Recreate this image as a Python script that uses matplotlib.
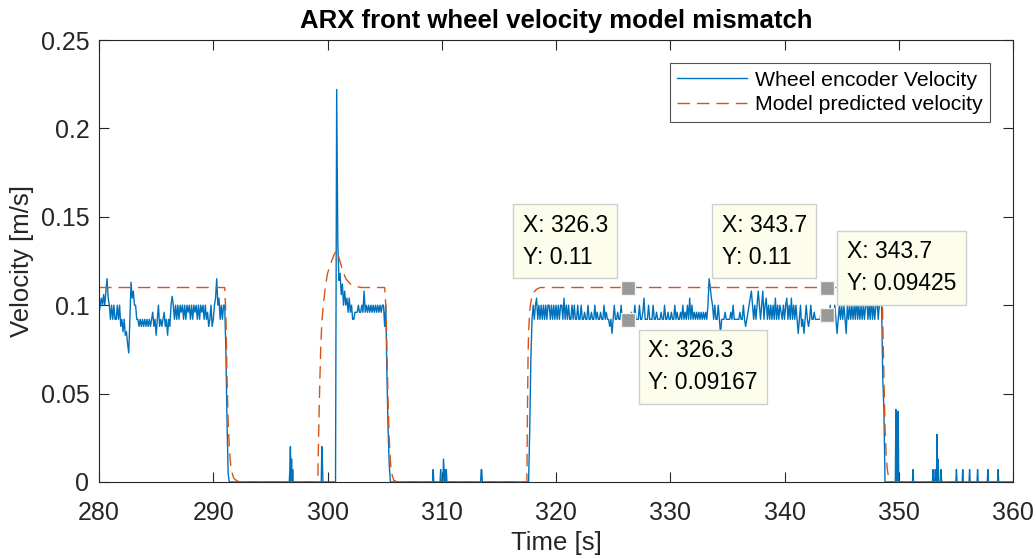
import numpy as np
import matplotlib
matplotlib.use("Agg")
from matplotlib import pyplot as plt

plt.rcParams['font.family'] = ['Liberation Sans', 'DejaVu Sans']

# ENCODER VELOCITY (mm/s), sampled every 0.1 s while the wheel is moving
seg_a_t0 = 280.0
seg_a = [95, 100, 104, 100, 106, 100, 108, 115, 104, 100,
         92, 100, 92, 100, 92, 92, 100, 92, 100, 88,
         92, 85, 92, 83, 85, 78, 73, 92, 113, 104,
         108, 100, 100, 92, 92, 88, 92, 88, 92, 88,
         92, 88, 92, 88, 92, 88, 92, 96, 88, 92,
         83, 92, 100, 88, 92, 88, 92, 96, 88, 92,
         83, 92, 88, 100, 105, 100, 92, 100, 92, 100,
         92, 100, 96, 100, 92, 100, 92, 100, 96, 100,
         92, 100, 92, 100, 96, 100, 92, 100, 92, 100,
         96, 100, 92, 100, 92, 96, 88, 92, 100, 88,
         92, 100, 104, 115, 100, 104, 92, 100, 92, 100,
         100, 75, 35, 5, 0]

seg_b_t0 = 300.7
seg_b = [0, 222, 135,
         114, 118, 106, 112, 100, 108, 100, 104, 96, 104,
         96, 100, 92, 92, 96, 96, 96, 100, 96, 96,
         100, 96, 108, 96, 100, 96, 100, 96, 100, 96,
         100, 96, 100, 96, 100, 96, 100, 96, 100, 100,
         88, 100, 60, 30, 10, 0]

seg_c_t0 = 317.6
seg_c = [0, 30, 70, 92,
         100, 92, 100, 104, 92, 100, 92, 100, 92, 100,
         92, 100, 92, 100, 100, 92, 100, 92, 100, 92,
         100, 92, 100, 92, 100, 100, 92, 104, 92, 100,
         92, 100, 92, 92, 100, 92, 100, 92, 92, 100,
         92, 92, 100, 92, 92, 96, 92, 92, 100, 92,
         92, 96, 92, 92, 100, 92, 96, 92, 92, 96,
         92, 92, 100, 92, 96, 92, 92, 88, 92, 84,
         92, 100, 92, 92, 96, 92, 92, 100, 92, 92,
         92, 92, 92, 92, 92, 92, 96, 92, 92, 100,
         92, 92, 92, 100, 92, 92, 96, 104, 92, 92,
         92, 100, 92, 92, 92, 100, 92, 92, 96, 92,
         92, 92, 96, 92, 92, 100, 92, 92, 96, 92,
         92, 96, 92, 92, 100, 92, 96, 92, 92, 96,
         92, 100, 92, 96, 92, 100, 92, 104, 92, 100,
         92, 96, 92, 96, 92, 96, 92, 96, 92, 96,
         92, 96, 92, 100, 115, 110, 104, 100, 92, 100,
         92, 92, 100, 92, 84, 92, 92, 92, 96, 92,
         92, 92, 92, 96, 92, 100, 92, 92, 92, 92,
         92, 96, 92, 92, 100, 92, 88, 92, 96, 100,
         104, 108, 100, 92, 100, 92, 100, 108, 100, 92,
         100, 108, 92, 100, 104, 92, 100, 92, 100, 92,
         100, 92, 104, 92, 100, 92, 100, 96, 92, 100,
         92, 100, 104, 92, 100, 92, 104, 92, 100, 92,
         100, 92, 84, 92, 100, 88, 92, 84, 92, 100,
         92, 88, 92, 100, 92, 92, 96, 92, 92, 92,
         92, 92, 96, 92, 92, 94, 92, 92, 96, 92,
         100, 92, 96, 92, 100, 92, 84, 92, 100, 92,
         100, 92, 100, 92, 84, 100, 92, 100, 92, 100,
         92, 100, 92, 104, 92, 100, 92, 100, 92, 100,
         92, 100, 104, 92, 100, 92, 104, 92, 100, 92,
         100, 104, 92, 100, 104, 100, 59, 41, 0]

# standstill periods (0.05 s samples), with the few encoder blips in them
quiet_ranges = [(291.5, 300.65), (305.6, 317.55), (348.85, 360.0)]
spike_t = [296.7, 296.75, 296.85, 296.95, 299.5, 299.55, 309.25, 309.9, 310.15,
           310.2, 310.3, 310.4, 313.45, 313.5, 349.75, 349.85, 349.95, 351.25,
           353.0, 353.2, 353.35, 353.45, 353.7, 355.05, 355.6, 356.2, 356.9,
           357.8, 358.7]
spike_v = [0.007, 0.020, 0.013, 0.007, 0.020, 0.012, 0.007, 0.007, 0.013,
           0.007, 0.007, 0.007, 0.007, 0.007, 0.041, 0.034, 0.040, 0.007,
           0.007, 0.007, 0.027, 0.013, 0.007, 0.007, 0.007, 0.007, 0.007,
           0.007, 0.007]

# MODEL PREDICTED VELOCITY
model_t = [280.0, 291.0, 291.1, 291.2, 291.3, 291.4, 291.5, 291.6, 291.8, 292.1, 292.4,
           299.15, 299.2, 299.3, 299.4, 299.5, 299.6, 299.8, 300.0, 300.3, 300.6, 300.8,
           301.0, 301.3, 301.6, 302.0, 302.5, 303.0,
           305.0, 305.1, 305.2, 305.3, 305.4, 305.5, 305.6, 305.8, 306.1,
           317.45, 317.5, 317.55, 317.6, 317.7, 317.8, 318.0, 318.3, 318.6,
           348.55, 348.6, 348.7, 348.8, 348.9, 349.0, 349.1, 349.3, 360.0]
model_v = [0.11, 0.11, 0.095, 0.06, 0.035, 0.02, 0.011, 0.006, 0.002, 0.0005, 0.0,
           0.0, 0.02, 0.05, 0.075, 0.09, 0.098, 0.11, 0.118, 0.124, 0.129, 0.131,
           0.127, 0.12, 0.115, 0.112, 0.1105, 0.11,
           0.11, 0.10, 0.075, 0.045, 0.025, 0.012, 0.005, 0.001, 0.0,
           0.0, 0.04, 0.07, 0.085, 0.097, 0.102, 0.107, 0.109, 0.11,
           0.11, 0.09, 0.06, 0.03, 0.015, 0.007, 0.003, 0.0, 0.0]

# DATA TIPS
tip_x = [326.3, 343.7, 326.3, 343.7]
tip_y = [0.11, 0.11, 0.09167, 0.09425]
tip_txt = ['X: 326.3\nY: 0.11', 'X: 343.7\nY: 0.11',
           'X: 326.3\nY: 0.09167', 'X: 343.7\nY: 0.09425']
tip_side = ['ul', 'ul', 'lr', 'ur']


# ASSEMBLE ENCODER SERIES
parts_t, parts_v = [], []
for t0, vals in [(seg_a_t0, seg_a), (seg_b_t0, seg_b), (seg_c_t0, seg_c)]:
    parts_t.append(t0 + 0.1 * np.arange(len(vals)))
    parts_v.append(np.array(vals) / 1000.0)
for a, b in quiet_ranges:
    tq = np.round(np.arange(a, b + 0.001, 0.05), 2)
    vq = np.zeros(len(tq))
    for ts, vs in zip(spike_t, spike_v):
        hit = np.abs(tq - ts) < 0.01
        vq[hit] = vs
    parts_t.append(tq)
    parts_v.append(vq)
enc_t = np.concatenate(parts_t)
enc_v = np.concatenate(parts_v)
order = np.argsort(enc_t, kind='stable')
enc_t, enc_v = enc_t[order], enc_v[order]


# PLOT
fig = plt.figure(figsize=(10.36, 5.59), dpi=100)
ax = fig.add_axes([0.0956, 0.1378, 0.8822, 0.7906])

ax.plot(enc_t, enc_v, color='#0072BD', lw=1.0, label='Wheel encoder Velocity')
ax.plot(model_t, model_v, color='#D95319', lw=1.0, dashes=(9, 5),
        label='Model predicted velocity')

ax.set_xlim(280, 360)
ax.set_ylim(0, 0.25)
ax.set_xticks(np.arange(280, 361, 10))
ax.set_yticks([0, 0.05, 0.1, 0.15, 0.2, 0.25])
ax.set_yticklabels(['0', '0.05', '0.1', '0.15', '0.2', '0.25'])
ax.tick_params(direction='in', length=7, width=0.8, top=True, right=True,
               labelsize=18, colors='#262626')
ax.tick_params(axis='x', pad=14)
ax.tick_params(axis='y', pad=7)
for s in ax.spines.values():
    s.set_color('#262626')
    s.set_linewidth(0.8)

ax.set_title('ARX front wheel velocity model mismatch', fontsize=18.5,
             fontweight='bold', pad=9)
ax.set_xlabel('Time [s]', fontsize=18.5, color='#262626', labelpad=4)
ax.set_ylabel('Velocity [m/s]', fontsize=18.5, color='#262626', labelpad=5)

leg = ax.legend(loc='upper right', fontsize=15.3, frameon=True, fancybox=False,
                borderaxespad=1.1, handlelength=3.3, handletextpad=0.35,
                borderpad=0.35, labelspacing=0.25)
leg.get_frame().set_edgecolor('#262626')
leg.get_frame().set_linewidth(0.8)

# data tips
ax.plot(tip_x, tip_y, ls='none', marker='s', ms=10, color='#999999',
        mec='#f4f4e8', mew=1.0, zorder=5)
offs = {'ul': (-14.5, 13.5, 'right', 'bottom'), 'ur': (14.5, 14.5, 'left', 'bottom'),
        'lr': (14.5, -14, 'left', 'top')}
for x, y, txt, side in zip(tip_x, tip_y, tip_txt, tip_side):
    dx, dy, ha, va = offs[side]
    ax.annotate(txt, (x, y), xytext=(dx, dy), textcoords='offset points',
                ha=ha, va=va, multialignment='left', fontsize=16.5,
                linespacing=1.5, zorder=6,
                bbox=dict(boxstyle='square,pad=0.42', fc='#FDFDEB', ec='#CFCFCF', lw=1.0))

fig.savefig('out.png', dpi=100)
